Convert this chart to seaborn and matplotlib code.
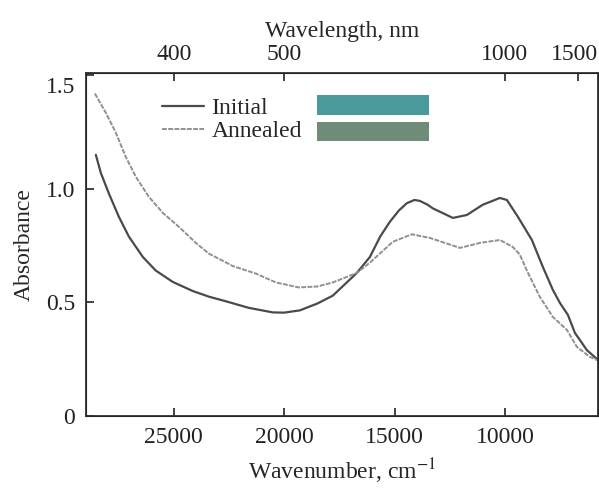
import numpy as np
import pandas as pd
import matplotlib.pyplot as plt
import matplotlib.transforms as mtransforms
import seaborn as sns
from matplotlib.patches import Rectangle

# Spectra (wavenumber, cm-1 / absorbance)
initial_wn = [28535, 28308, 27946, 27492, 27039, 26405, 25816, 25045, 24139, 23400,
              22644, 21601, 20514, 20000, 19290, 18500, 17795, 16707, 16118, 15650,
              15212, 14800, 14441, 14100, 13852, 13500, 13263, 12357, 11722, 11003,
              10227, 9909, 9411, 8777, 8279, 7825, 7508, 7145, 6828, 6284, 5786]
initial_abs = [1.15, 1.07, 0.98, 0.877, 0.79, 0.70, 0.64, 0.59, 0.55, 0.525,
               0.505, 0.476, 0.456, 0.455, 0.465, 0.495, 0.53, 0.63, 0.70, 0.79,
               0.855, 0.905, 0.937, 0.951, 0.947, 0.93, 0.914, 0.872, 0.885, 0.93,
               0.96, 0.951, 0.877, 0.775, 0.656, 0.555, 0.498, 0.445, 0.366, 0.29, 0.247]

annealed_wn = [28580, 28082, 27628, 27175, 26722, 26133, 25498, 24773, 24003, 23414,
               22326, 21284, 20378, 19335, 18500, 17795, 16707, 16118, 15076, 14215,
               13399, 12039, 11133, 10227, 9638, 9320, 9003, 8414, 7825, 7190,
               6737, 6148, 5786]
annealed_abs = [1.42, 1.335, 1.247, 1.14, 1.053, 0.965, 0.894, 0.833, 0.762, 0.715,
                0.66, 0.627, 0.588, 0.566, 0.57, 0.588, 0.63, 0.675, 0.767, 0.80,
                0.784, 0.74, 0.762, 0.775, 0.744, 0.71, 0.64, 0.524, 0.436, 0.379,
                0.304, 0.26, 0.245]

wn_ticks = [25000, 20000, 15000, 10000]
nm_ticks = [400, 500, 1000, 1500]
abs_ticks = [0, 0.5, 1.0, 1.5]
abs_labels = ['0', '0.5', '1.0', '1.5']

sns.set_style('ticks')
plt.rcParams['font.family'] = ['Liberation Serif', 'DejaVu Serif']
plt.rcParams['mathtext.fontset'] = 'stix'

df_init = pd.DataFrame({'wn': initial_wn, 'A': initial_abs})
df_ann = pd.DataFrame({'wn': annealed_wn, 'A': annealed_abs})

fig = plt.figure(figsize=(5.99, 4.92), dpi=100)
ax = fig.add_axes([0.1436, 0.1545, 0.8544, 0.6971])

sns.lineplot(data=df_init, x='wn', y='A', ax=ax, color='#4a4a4a', lw=1.6,
             sort=False, label='Initial')
sns.lineplot(data=df_ann, x='wn', y='A', ax=ax, color='#909090', lw=1.4,
             linestyle=(0, (2.5, 0.7)), sort=False, label='Annealed')

ax.set_xlim(28980, 5790)
ax.set_ylim(0, 1.51)
ax.set_xticks(wn_ticks)
ax.set_xticklabels([str(t) for t in wn_ticks])
ax.set_yticks(abs_ticks)
ax.set_yticklabels(abs_labels)
ax.tick_params(direction='in', length=6, width=1.2, labelsize=17, pad=8, colors='#222222')
ax.set_xlabel('Wavenumber, cm$^{-1}$', fontsize=17, labelpad=6)
ax.set_ylabel('Absorbance', fontsize=17, labelpad=8)
for s in ax.spines.values():
    s.set_linewidth(1.3)
    s.set_color('#333333')
# the top y label sits a little below its tick in the reference
top_y = ax.get_yticklabels()[-1]
top_y.set_transform(top_y.get_transform() +
                    mtransforms.ScaledTranslation(0, -7 / 72, fig.dpi_scale_trans))

# top axis: wavelength
ax2 = ax.twiny()
ax2.set_xlim(ax.get_xlim())
ax2.set_xticks([1e7 / n for n in nm_ticks])
ax2.set_xticklabels([str(n) for n in nm_ticks])
ax2.tick_params(direction='in', length=6, width=1.2, labelsize=17, pad=6, colors='#222222')
ax2.set_xlabel('Wavelength, nm', fontsize=17, labelpad=5)
# nudge the last label so it stays inside the figure
last = ax2.get_xticklabels()[-1]
last.set_transform(last.get_transform() +
                   mtransforms.ScaledTranslation(-3 / 72, 0, fig.dpi_scale_trans))

leg = ax.legend(loc='upper left', bbox_to_anchor=(0.13, 0.955), frameon=False,
                fontsize=17, handlelength=1.8, handletextpad=0.3,
                labelspacing=0.05, borderaxespad=0)

# colour swatches next to the legend
ax.add_patch(Rectangle((0.451, 0.878), 0.219, 0.058, transform=ax.transAxes,
                       facecolor='#4a9a9c', edgecolor='none'))
ax.add_patch(Rectangle((0.451, 0.802), 0.219, 0.056, transform=ax.transAxes,
                       facecolor='#6f8c78', edgecolor='none'))

fig.savefig('out.png', dpi=100)
